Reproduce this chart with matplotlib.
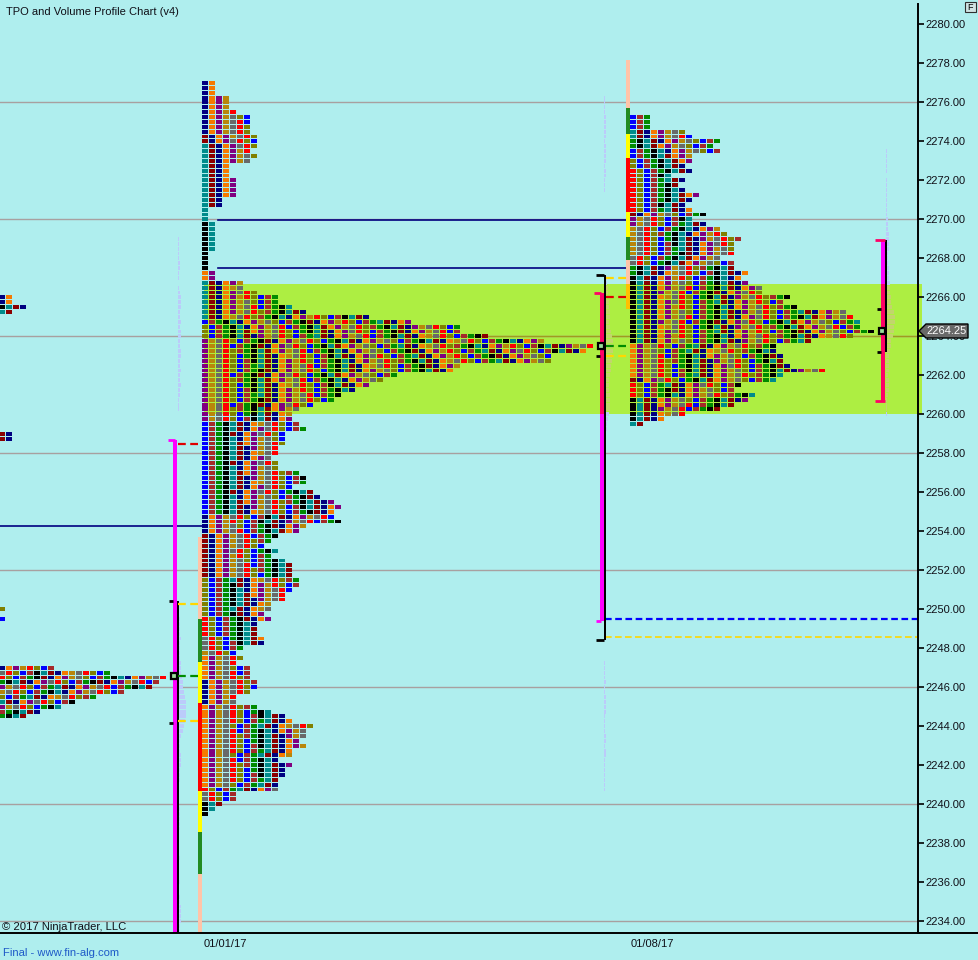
import matplotlib
matplotlib.use("Agg")
import matplotlib.pyplot as plt
from matplotlib.patches import Polygon, Rectangle

plt.rcParams['font.family'] = ['Liberation Sans', 'DejaVu Sans']

# row widths (number of TPO cells), top row first, 0.25 points per row
prev_top = 2247.0
prev_widths = [8, 16, 24, 23, 22, 18, 14, 11, 9, 6, 4]
prev_first = ['navy', 'gray', 'red', 'green', 'purple', 'gold', 'olive', 'teal', 'purple', 'brown', 'green']

week1_top = 2277.0
week1_widths = [2, 2, 2, 4, 4, 4, 5, 7, 7, 7, 7, 8, 8, 8, 7, 8, 7, 4, 4, 4, 5, 5, 5, 5, 3, 3, 1, 1, 1, 2,
                2, 2, 2, 2, 2, 1, 1, 1, 1, 2, 2, 6, 6, 8, 11, 11, 13, 15, 24, 30, 37, 37, 41, 49, 56, 55, 50, 50, 37, 36,
                28, 26, 24, 22, 20, 19, 16, 14, 13, 13, 14, 15, 12, 12, 12, 11, 11, 10, 11, 11, 14, 15, 15, 13, 16, 17, 19, 20, 19, 19,
                20, 15, 14, 11, 10, 9, 11, 10, 12, 13, 13, 13, 14, 14, 13, 12, 12, 10, 10, 9, 10, 8, 8, 8, 9, 9, 6, 5, 6, 5,
                7, 7, 7, 8, 8, 7, 5, 5, 8, 10, 12, 13, 16, 15, 15, 14, 15, 13, 13, 11, 13, 12, 12, 11, 11, 11, 5, 5, 3, 2, 1]
week1_first = (['navy'] * 11 + ['darkred'] * 2 + ['teal'] * 16 + ['black'] * 10 + ['orange'] * 2 + ['teal'] * 8
               + ['blue'] + ['olive'] * 3 + ['purple'] * 17 + ['blue'] * 19 + ['navy'] * 4 + ['darkred'] * 9
               + ['olive'] * 8 + ['red'] * 4 + ['gray'] * 3 + ['gold'] + ['orange'] * 5 + ['navy'] * 5
               + ['orange'] * 17 + ['red'] + ['gray'] * 2 + ['black'] * 3)

week2_top = 2275.25
week2_widths = [3, 3, 3, 8, 9, 13, 12, 13, 9, 9, 8, 9, 6, 8, 7, 8, 10, 9, 8, 9, 11, 9, 11, 13, 14, 16, 15, 15, 15, 13, 15, 15,
                17, 16, 17, 19, 19, 23, 22, 24, 31, 32, 33, 33, 35, 32, 26, 21, 21, 22, 22, 23, 28, 22, 21, 16, 15, 18, 17, 15, 13, 8, 5, 2]
week2_first = (['blue'] * 3 + ['teal'] * 2 + ['green'] * 2 + ['blue'] * 2 + ['olive'] * 2 + ['red'] * 9 + ['darkred']
               + ['purple'] * 2 + ['gold'] * 6 + ['gray'] * 2 + ['green'] * 2 + ['black'] * 14 + ['orange'] * 7 + ['darkred']
               + ['red'] * 2 + ['red'] + ['black'] * 5 + ['teal'] + ['purple'])

# the small leftovers of older sessions at the left edge
stub_prices = [2266.0, 2265.75, 2265.5, 2265.25, 2259.0, 2258.75, 2250.0, 2249.5]
stub_widths = [2, 2, 4, 2, 2, 2, 1, 1]
stub_first = ['navy', 'navy', 'black', 'teal', 'darkred', 'darkred', 'olive', 'blue']

# faint volume profiles, bar lengths in chart units
vol1_top_a = 2269.0
vol1_a = [1, 1, 1, 1, 1, 2, 2, 1, 1, 0, 1, 2, 3, 3, 3, 2, 2, 3, 2, 3, 3, 2, 2, 3, 3, 2, 2, 3, 2, 2, 3, 2, 2, 1, 1, 1]
vol1_top_b = 2249.5
vol1_b = [1, 1, 1, 1, 2, 1, 1, 1, 1, 2, 2, 2, 3, 4, 4, 5, 6, 7, 7, 7, 7, 6, 5, 4, 2, 1, 1, 1, 2, 2, 2, 1, 1, 1,
          0, 0, 0, 0, 0, 1, 1, 1, 1, 1, 0, 0, 0, 0, 0, 1, 0, 0, 0, 0, 1, 0, 0, 1, 1, 2, 2, 2, 2, 1, 1]
vol2_top_a = 2276.25
vol2_a = [1, 1, 1, 1, 2, 2, 2, 2, 2, 1, 2, 2, 2, 2, 1, 2, 2, 1, 1, 1]
vol2_top_b = 2267.0
vol2_b = [1, 1, 2, 2, 1, 3, 3, 4, 4, 3, 4, 5, 6, 7, 7, 7, 6, 6, 5, 5, 4, 3, 3, 3, 4, 4, 4, 4, 3, 2, 1, 1]
vol2_top_c = 2247.25
vol2_c = [1, 1, 1, 1, 2, 1, 1, 2, 2, 2, 2, 1, 1, 1, 1, 2, 2, 1, 2, 2, 1, 1, 1, 1, 1, 1, 1]
vol3_top = 2273.5
vol3 = [1, 1, 1, 1, 1, 0, 1, 1, 1, 1, 1, 1, 1, 1, 2, 2, 2, 3, 3, 3, 3, 2, 2, 2, 3, 3, 3, 4, 4, 4, 5, 5, 6, 8, 9, 9, 8, 8, 7, 5, 5, 4,
        3, 3, 3, 3, 2, 3, 3, 3, 2, 1, 1, 1, 1]

y_ticks = list(range(2234, 2282, 2))
grid_prices = [2234, 2240, 2246, 2252, 2258, 2264, 2270, 2276]
date_labels = ['01/01/17', '01/08/17']

cycle = ['black', 'teal', 'darkred', 'navy', 'orange', 'purple', 'gold', 'gray', 'red', 'olive', 'blue', 'brown', 'green']
hexes = {'black': '#000000', 'teal': '#008B8B', 'darkred': '#8B0000', 'navy': '#000080', 'orange': '#F57A00',
         'purple': '#800080', 'gold': '#B8860B', 'gray': '#696969', 'red': '#FF0000', 'olive': '#808000',
         'blue': '#0000FF', 'brown': '#A52A2A', 'green': '#008B00'}

BG = '#AFEEEE'
ZONE = '#ADEE42'
MAGENTA = '#FF00FF'
PINK = '#FF0066'
PITCH = 7
CELL = 6
ROW = 0.25
ZONE_LEFT = 204
ZONE_LO = 2260.04
ZONE_HI = 2266.69


def draw_profile(ax, x0, prices, widths, first):
    ys, lefts, cols = [], [], []
    for i, w in enumerate(widths):
        start = cycle.index(first[i % len(first)])
        gap = 4 + i % 6
        for c in range(w):
            # periods run through the colour cycle, some are missing from a row
            ys.append(prices[i])
            lefts.append(x0 + c * PITCH)
            cols.append(hexes[cycle[(start + c + c // gap) % len(cycle)]])
    ax.barh(ys, CELL, left=lefts, height=0.2, color=cols, linewidth=0, antialiased=False, zorder=4)


def rows_from(top, n):
    return [top - i * ROW for i in range(n)]


def draw_volume(ax, x0, top, lengths):
    ys = rows_from(top, len(lengths))
    # on the value area the faint bars turn olive
    cols = ['#C2D56C' if x0 > ZONE_LEFT and ZONE_LO < y < ZONE_HI else '#BBCBFA' for y in ys]
    ax.barh(ys, lengths, left=x0, height=0.2, color=cols, linewidth=0, zorder=3)


fig = plt.figure(figsize=(9.79, 9.6), dpi=100, facecolor=BG)
ax = fig.add_axes([0, 1 - 933 / 960, 918.5 / 979, 929 / 960], facecolor=BG)
ax.set_xlim(0, 918.5)
ax.set_ylim(2233.39, 2281.05)

# value area band runs a little past the price axis
ax.add_patch(Rectangle((ZONE_LEFT, ZONE_LO), 718, ZONE_HI - ZONE_LO, facecolor=ZONE, edgecolor='none', clip_on=False, zorder=1))

for g in grid_prices:
    ax.axhline(g, color='#A8A0A0', linewidth=1, zorder=2)
ax.plot([ZONE_LEFT, 918], [2264, 2264], color='#A09A20', linewidth=1, zorder=2)

# composite session lines
ax.plot([218, 628], [2269.95, 2269.95], color='#000080', linewidth=1.2, zorder=3)
ax.plot([218, 628], [2267.5, 2267.5], color='#000080', linewidth=1.2, zorder=3)
ax.plot([0, 202], [2254.25, 2254.25], color='#000080', linewidth=1.2, zorder=3)
ax.plot([605, 918], [2249.5, 2249.5], color='#0000FF', linewidth=1.6, linestyle=(0, (3, 1.6)), zorder=3)
ax.plot([605, 918], [2248.55, 2248.55], color='#FFD700', linewidth=1.2, linestyle=(0, (4, 2)), zorder=3)

draw_volume(ax, 178, vol1_top_a, vol1_a)
draw_volume(ax, 179, vol1_top_b, vol1_b)
draw_volume(ax, 604, vol2_top_a, vol2_a)
draw_volume(ax, 606, vol2_top_b, vol2_b)
draw_volume(ax, 604, vol2_top_c, vol2_c)
draw_volume(ax, 886, vol3_top, vol3)

draw_profile(ax, -1, rows_from(prev_top, len(prev_widths)), prev_widths, prev_first)
draw_profile(ax, -1, stub_prices, stub_widths, stub_first)
draw_profile(ax, 202, rows_from(week1_top, len(week1_widths)), week1_widths, week1_first)
draw_profile(ax, 630, rows_from(week2_top, len(week2_widths)), week2_widths, week2_first)


def vbar(x, w, p_hi, p_lo, color, z=5):
    ax.add_patch(Rectangle((x, p_lo), w, p_hi - p_lo, facecolor=color, edgecolor='none', zorder=z))


def tick(x0, x1, p, color):
    ax.plot([x0, x1], [p, p], color=color, linewidth=2, solid_capstyle='butt', zorder=6)


def dash(x0, x1, p, color):
    ax.plot([x0, x1], [p, p], color=color, linewidth=1.6, linestyle=(0, (3.5, 2)), zorder=5)


def poc_box(x, p):
    ax.plot([x], [p], marker='s', markersize=5, markerfacecolor='#9ADF9A', markeredgecolor='black',
            markeredgewidth=1.6, zorder=8)


# period colour strips next to the profiles
strip1 = [(2253.7, 2249.5, '#FFC4A8'), (2249.5, 2247.3, '#228B22'), (2247.3, 2245.2, '#FFFF00'),
          (2245.2, 2240.65, '#FF0000'), (2240.65, 2238.55, '#FFFF00'), (2238.55, 2236.4, '#228B22'),
          (2236.4, 2233.39, '#FFC4A8')]
for hi, lo, col in strip1:
    vbar(198, 4, hi, lo, col, 3)

strip2 = [(2278.2, 2275.7, '#FFC4A8'), (2275.7, 2274.4, '#228B22'), (2274.4, 2273.15, '#FFFF00'),
          (2273.15, 2270.4, '#FF0000'), (2270.4, 2269.1, '#FFFF00'), (2269.1, 2267.9, '#228B22'),
          (2267.9, 2266.69, '#FFC4A8'), (2266.69, 2265.4, '#FFC000')]
for hi, lo, col in strip2:
    vbar(626, 4, hi, lo, col, 3)

# session 1 range bars
vbar(172.5, 4.5, 2258.68, 2233.39, MAGENTA)
vbar(177, 2.2, 2250.42, 2233.39, '#000000')
tick(168, 175, 2258.68, MAGENTA)
tick(169, 173, 2250.42, '#000000')
tick(169, 173, 2244.16, '#000000')
dash(178, 202, 2258.48, '#E00000')
dash(178, 202, 2250.27, '#FFD700')
dash(178, 202, 2244.29, '#FFD700')
dash(178, 202, 2246.55, '#008B00')
poc_box(174, 2246.55)

# session 2 range bars
vbar(599.5, 4.5, 2266.2, ZONE_LO, PINK)
vbar(599.5, 4.5, ZONE_LO, 2249.4, MAGENTA)
vbar(604, 2.3, 2267.15, 2248.42, '#000000')
tick(596, 604, 2267.15, '#000000')
tick(596, 604, 2248.42, '#000000')
tick(594, 601, 2266.2, PINK)
tick(596, 601, 2249.4, MAGENTA)
tick(596, 600, 2263.0, '#000000')
dash(606, 628, 2267.0, '#FFD700')
dash(606, 628, 2266.0, '#E00000')
dash(606, 630, 2263.53, '#008B00')
dash(606, 630, 2263.0, '#FFD700')
poc_box(601, 2263.53)

# session 3 range bars
vbar(880.5, 4.5, 2268.95, ZONE_HI, MAGENTA)
vbar(880.5, 4.5, ZONE_HI, 2260.68, PINK)
vbar(885, 2.2, 2268.95, 2263.2, '#000000')
tick(875, 885, 2268.95, PINK)
tick(875, 885, 2260.68, PINK)
tick(877, 881, 2265.4, '#000000')
tick(877, 881, 2263.2, '#000000')
poc_box(882, 2264.29)

for s in ['left', 'top']:
    ax.spines[s].set_visible(False)
for s in ['right', 'bottom']:
    ax.spines[s].set_linewidth(1.4)
    ax.spines[s].set_zorder(9)
ax.yaxis.tick_right()
ax.set_yticks(y_ticks)
ax.set_yticklabels([f'{v:.2f}' for v in y_ticks], fontsize=8, color='#101018')
ax.tick_params(axis='y', length=4.3, width=1.2, pad=0.8)
ax.set_xticks([225, 652])
ax.set_xticklabels(date_labels, fontsize=8, color='#101018')
ax.tick_params(axis='x', length=0, pad=4)

# extend the bottom line under the price scale
fig.add_artist(plt.Line2D([918 / 979, 1], [1 - 933 / 960, 1 - 933 / 960], color='black', linewidth=1.4))


def px(x, y):
    return x / 979, 1 - y / 960


fig.text(*px(6, 12), 'TPO and Volume Profile Chart (v4)', fontsize=8, color='#101018', va='center')
fig.text(*px(2, 927), '© 2017 NinjaTrader, LLC', fontsize=8.1, color='#101018', va='center')
fig.text(*px(3, 953), 'Final - www.fin-alg.com', fontsize=8.1, color='#1E5AC8', va='center')

# last price flag on the scale
flag = [px(919, 331), px(926, 324), px(968, 324), px(968, 338), px(926, 338)]
fig.add_artist(Polygon(flag, closed=True, transform=fig.transFigure, facecolor='#696969', edgecolor='black', linewidth=1))
fig.text(*px(947, 331), '2264.25', fontsize=8, color='white', ha='center', va='center')

# the little F button
fig.add_artist(Rectangle(px(965, 12), 11 / 979, 10 / 960, transform=fig.transFigure, facecolor='#D0E4E4',
                         edgecolor='#303030', linewidth=0.8))
fig.text(*px(970.5, 7), 'F', fontsize=6.5, color='black', ha='center', va='center')

fig.savefig('out.png', dpi=100, facecolor=BG)
plt.close()
